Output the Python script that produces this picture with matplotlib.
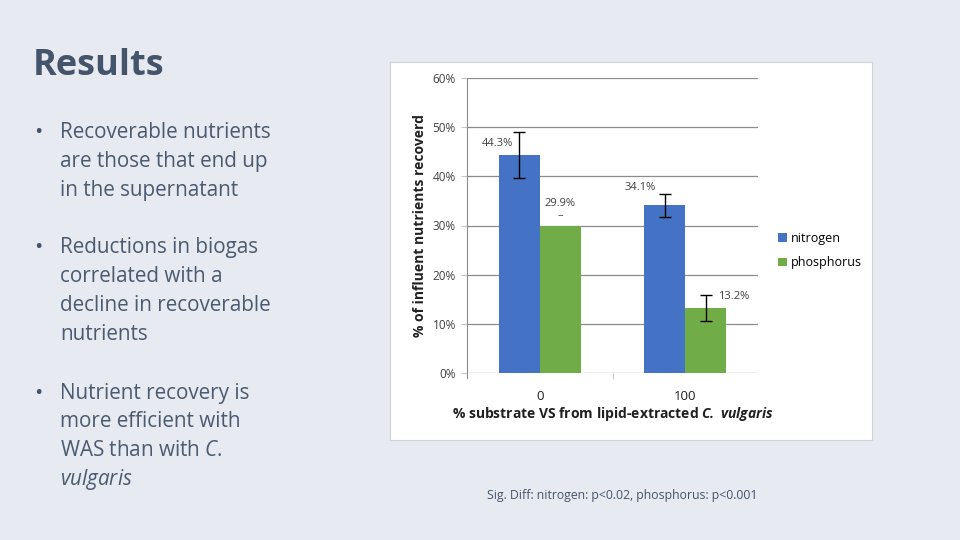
import matplotlib.pyplot as plt
from matplotlib.patches import Rectangle

# data
groups = ["0", "100"]
nitrogen = [44.3, 34.1]
phosphorus = [29.9, 13.2]
nitrogen_err = [4.7, 2.3]
phosphorus_err = [0.0, 2.6]
nitrogen_labels = ["44.3%", "34.1%"]
phosphorus_labels = ["29.9%", "13.2%"]
yticks = [0, 10, 20, 30, 40, 50, 60]
bullets = [
    ["Recoverable nutrients", "are those that end up", "in the supernatant"],
    ["Reductions in biogas", "correlated with a", "decline in recoverable", "nutrients"],
    ["Nutrient recovery is", "more efficient with", "WAS than with $\\mathit{C.}$", "$\\mathit{vulgaris}$"],
]

BG = "#e7eaf1"
SLATE = "#44546a"
BLUE = "#4472c4"
GREEN = "#70ad47"

plt.rcParams['font.family'] = ['Open Sans', 'DejaVu Sans']
plt.rcParams['mathtext.fontset'] = 'custom'
plt.rcParams['mathtext.it'] = 'Open Sans:italic'
plt.rcParams['mathtext.rm'] = 'Open Sans'
plt.rcParams['mathtext.bfit'] = 'Open Sans:italic:bold'

fig = plt.figure(figsize=(9.6, 5.4), dpi=100, facecolor=BG)

# title and bullets
fig.text(33 / 960, 1 - 66 / 540, "Results", fontsize=26, fontweight='bold',
         color=SLATE, va='center', ha='left')

line_h = 28.7
starts = [133, 248, 393]
for block, y0 in zip(bullets, starts):
    fig.text(34 / 960, 1 - y0 / 540, "•", fontsize=16, color=SLATE, va='center')
    for i, line in enumerate(block):
        fig.text(60 / 960, 1 - (y0 + i * line_h) / 540, line, fontsize=14.9,
                 color="#4a5a70", va='center', ha='left')

# white chart panel
fig.patches.append(Rectangle((390 / 960, 1 - 440 / 540), 482 / 960, 378 / 540,
                             transform=fig.transFigure, facecolor='white',
                             edgecolor='#d0d3d8', linewidth=0.8, zorder=0))

ax = fig.add_axes([467 / 960, 1 - 373 / 540, 291 / 960, 295 / 540])
ax.set_zorder(2)
ax.set_facecolor('white')

x = list(range(len(groups)))
w = 0.282
xn = [i - w / 2 for i in x]
xp = [i + w / 2 for i in x]
ax.bar(xn, nitrogen, width=w, color=BLUE, label="nitrogen", zorder=3)
ax.bar(xp, phosphorus, width=w, color=GREEN, label="phosphorus", zorder=3)
ax.errorbar(xn, nitrogen, yerr=nitrogen_err, fmt='none', ecolor='black',
            elinewidth=1, capsize=4, capthick=1, zorder=4)
ax.errorbar(xp[1:], phosphorus[1:], yerr=phosphorus_err[1:], fmt='none', ecolor='black',
            elinewidth=1, capsize=4, capthick=1, zorder=4)

lab_kw = dict(fontsize=8, color='#404040', ha='center', va='center')
ax.text(xn[0] - 0.15, nitrogen[0] + 2.4, nitrogen_labels[0], zorder=5, **lab_kw)
ax.text(xn[1] - 0.17, nitrogen[1] + 3.7, nitrogen_labels[1], **lab_kw)
ax.text(xp[0], phosphorus[0] + 4.5, phosphorus_labels[0], **lab_kw)
ax.text(xp[0], phosphorus[0] + 2.1, "–", **lab_kw)
ax.text(xp[1] + 0.19, phosphorus[1] + 2.4, phosphorus_labels[1], **lab_kw)

ax.set_xlim(-0.5, 1.5)
ax.set_ylim(0, 60)
ax.set_yticks(yticks)
ax.set_yticklabels([f"{v}%" for v in yticks], fontsize=8.5, color='#404040')
ax.set_xticks(x)
ax.set_xticklabels(groups, fontsize=9.5, color='#202020')
ax.set_xticks([0.5], minor=True)
ax.tick_params(axis='x', which='major', length=0, pad=12)
ax.tick_params(axis='x', which='minor', length=4, color='#bbbbbb', direction='out')
ax.tick_params(axis='y', length=4, color='#c8c8c8', pad=4)
ax.grid(axis='y', color='#8c8c8c', linewidth=0.9, zorder=0)
ax.set_axisbelow(True)
for s in ['top', 'right', 'bottom']:
    ax.spines[s].set_visible(False)
ax.spines['left'].set_color('#8c8c8c')
ax.spines['left'].set_bounds(-1, 60)
ax.set_ylim(0, 60)

ax.set_ylabel("% of influent nutrients recoverd", fontsize=10, fontweight='bold',
              color='#202020', labelpad=4)
ax.set_xlabel("% substrate VS from lipid-extracted $\\mathbfit{C.\\ vulgaris}$",
              fontsize=10, fontweight='bold', color='#202020', labelpad=2)

ax.legend(loc='center left', bbox_to_anchor=(1.03, 0.414), frameon=False,
          fontsize=9, handlelength=0.7, handleheight=0.7, handletextpad=0.35,
          labelspacing=0.9)

fig.text(487 / 960, 1 - 496 / 540, "Sig. Diff: nitrogen: p<0.02, phosphorus: p<0.001",
         fontsize=8.8, color=SLATE, va='center', ha='left')

fig.savefig("out.png", dpi=100, facecolor=BG)
